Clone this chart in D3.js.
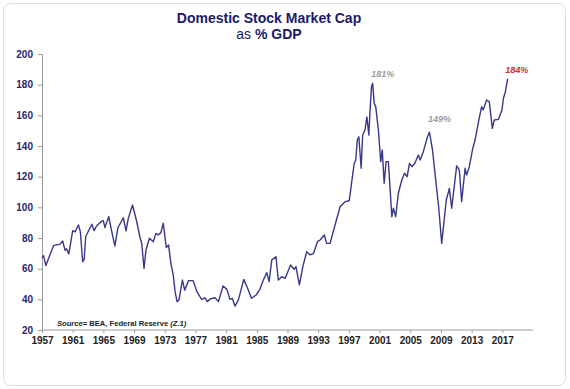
<!DOCTYPE html>
<html>
<head>
<meta charset="utf-8">
<script src="https://cdn.jsdelivr.net/npm/d3@7"></script>
<style>
  body { margin: 0; background: #fff; }
  svg { font-family: "Liberation Sans", Arial, sans-serif; }
</style>
</head>
<body>
<svg></svg>
<script>
var width = 570;
var height = 389;

// data (year, % of GDP)
var years = [1957.0, 1957.2, 1957.5, 1958.5, 1959.35, 1959.7, 1960.0, 1960.2, 1960.5, 1961.0,
  1961.3, 1961.75, 1962.0, 1962.3, 1962.5, 1962.7, 1963.5, 1963.8, 1964.1, 1964.8,
  1965.0, 1965.2, 1965.7, 1966.1, 1966.5, 1966.9, 1967.6, 1967.95, 1968.25, 1968.8,
  1969.35, 1969.8, 1970.0, 1970.3, 1970.55, 1971.0, 1971.5, 1971.85, 1972.15, 1972.5,
  1972.8, 1973.2, 1973.5, 1973.8, 1974.1, 1974.35, 1974.6, 1974.85, 1975.3, 1975.6,
  1976.1, 1976.7, 1977.2, 1977.8, 1978.25, 1978.55, 1978.9, 1979.55, 1980.0, 1980.6,
  1981.1, 1981.5, 1981.8, 1982.15, 1982.6, 1983.3, 1983.8, 1984.3, 1984.9, 1985.4,
  1985.85, 1986.3, 1986.6, 1986.95, 1987.5, 1987.8, 1988.25, 1988.7, 1989.4, 1989.85,
  1990.1, 1990.55, 1991.0, 1991.5, 1991.95, 1992.4, 1992.9, 1993.25, 1993.8, 1994.1,
  1994.55, 1995.2, 1995.85, 1996.5, 1997.05, 1997.4, 1997.7, 1997.9, 1998.1, 1998.3,
  1998.6, 1998.8, 1999.1, 1999.35, 1999.6, 1999.75, 1999.95, 2000.1, 2000.3, 2000.5,
  2000.85, 2001.15, 2001.35, 2001.6, 2001.85, 2002.15, 2002.6, 2002.8, 2003.1, 2003.45,
  2003.9, 2004.25, 2004.6, 2004.9, 2005.2, 2005.6, 2006.05, 2006.3, 2006.7, 2007.25,
  2007.5, 2007.9, 2008.25, 2008.7, 2009.1, 2009.7, 2010.1, 2010.4, 2011.05, 2011.4,
  2011.7, 2012.15, 2012.35, 2012.7, 2013.15, 2013.45, 2013.9, 2014.3, 2014.5, 2014.95,
  2015.3, 2015.7, 2015.95, 2016.5, 2016.95, 2017.15, 2017.4, 2017.7];

var marketCap = [67, 68.5, 62, 75, 76, 78, 72, 73, 69.6, 84.8,
  84, 88.5, 84, 64.5, 66, 81, 89, 84.8, 87.8, 91,
  91.3, 86.8, 94, 84, 74.8, 86.7, 93.2, 84.6, 92.8, 101.5,
  90.6, 79.8, 76.5, 60.2, 72.2, 79.8, 77.6, 83, 82, 83.5,
  89.6, 73.7, 75.4, 63.5, 55.9, 45, 38.5, 39.6, 52.6, 46,
  52.2, 52.2, 45, 40, 41, 38.5, 40.2, 41, 38.5, 48.7,
  46.5, 40, 40.7, 35.6, 39.6, 53, 47.2, 40.7, 42.8, 46.5,
  52.6, 57.4, 51.5, 65.7, 67.8, 52.6, 54.8, 53.7, 62.4, 59.6,
  61.3, 49.4, 61.3, 71, 69, 70, 77.6, 78.7, 82, 76.5,
  76.5, 88.5, 100.4, 103.7, 104.3, 117.8, 128.7, 130.9, 143.9, 146,
  125.5, 147.2, 150.4, 159, 147.2, 162.4, 178.7, 181, 167.8, 165.7,
  150.4, 129.8, 137.4, 115.7, 129.8, 129.8, 93.9, 99.4, 93.9, 109.2,
  117.8, 122.2, 120, 128.7, 126.5, 128.7, 134.1, 130.9, 136.3, 146,
  149, 137.4, 121, 100.4, 76.5, 104.8, 112.4, 99.4, 127, 124.3,
  103.7, 125.5, 121, 126.5, 138.4, 143.9, 155.9, 165.7, 163.5, 170,
  168.9, 151.5, 157, 157.4, 163.5, 171.1, 175.4, 184];

var yearTicks = [1957, 1961, 1965, 1969, 1973, 1977, 1981, 1985, 1989, 1993, 1997, 2001, 2005, 2009, 2013, 2017];
var pctTicks = [20, 40, 60, 80, 100, 120, 140, 160, 180, 200];

var peakLabels = ["181%", "149%", "184%"];
var peakYears = [2000.1, 2007.5, 2017.7];
var peakValues = [181, 149, 184];

var data = years.map((y, i) => ({year: y, value: marketCap[i]}));

var svg = d3.select("svg")
            .attr("width", width)
            .attr("height", height);

svg.append("rect")
    .attr("x", 3.5).attr("y", 3.5)
    .attr("width", width - 8).attr("height", height - 7)
    .attr("rx", 7)
    .attr("fill", "#fff")
    .attr("stroke", "#dcdcdc");

var x = d3.scaleLinear().domain([1957, 2021]).range([42, 533]);
var y = d3.scaleLinear().domain([20, 200]).range([330, 54]);

// title
var title = svg.append("text")
    .attr("x", 269)
    .attr("text-anchor", "middle")
    .attr("fill", "#1b1a6b")
    .style("font-size", "14px")
    .style("font-weight", "bold");
title.append("tspan").attr("x", 269).attr("y", 23).text("Domestic Stock Market Cap");
var line2 = title.append("tspan").attr("x", 269).attr("y", 39);
line2.append("tspan").style("font-weight", "normal").text("as ");
line2.append("tspan").text("% GDP");

// axes
var yAxis = svg.append("g")
    .attr("transform", "translate(42,0)")
    .call(d3.axisLeft(y).tickValues(pctTicks).tickSize(4).tickPadding(5));
yAxis.selectAll("text")
    .attr("fill", "#262673")
    .style("font-size", "10px")
    .style("font-weight", "bold")
    .style("font-family", "Liberation Sans, Arial, sans-serif");

var xAxis = svg.append("g")
    .attr("transform", "translate(0,330)")
    .call(d3.axisBottom(x).tickValues(yearTicks).tickFormat(d3.format("d")).tickSize(3).tickPadding(4));
xAxis.selectAll("text")
    .attr("fill", "#222")
    .style("font-size", "10px")
    .style("font-weight", "bold")
    .style("font-family", "Liberation Sans, Arial, sans-serif");

svg.selectAll(".domain, .tick line").attr("stroke", "#9a9a9a");
xAxis.select(".domain").attr("d", "M42,0H533");

// line
var line = d3.line()
    .x(d => x(d.year))
    .y(d => y(d.value));

svg.append("path")
    .datum(data)
    .attr("fill", "none")
    .attr("stroke", "#38388a")
    .attr("stroke-width", 1.4)
    .attr("stroke-linejoin", "round")
    .attr("d", line);

// peak annotations
svg.selectAll(".peak")
    .data(peakLabels)
    .enter()
    .append("text")
        .classed("peak", true)
        .attr("x", (d, i) => x(peakYears[i]) + (i === 2 ? 9 : 10))
        .attr("y", (d, i) => y(peakValues[i]) - (i === 1 ? 10 : 6))
        .attr("text-anchor", "middle")
        .attr("fill", (d, i) => i === 2 ? "#d8262e" : "#9c9c9c")
        .style("font-size", "9px")
        .style("font-weight", "bold")
        .style("font-style", "italic")
        .text(d => d);

// source note
var src = svg.append("text")
    .attr("x", 57)
    .attr("y", 326)
    .attr("fill", "#222")
    .style("font-size", "7.6px")
    .style("font-weight", "bold");
src.append("tspan").style("font-style", "italic").text("Source");
src.append("tspan").text("= BEA, Federal Reserve ");
src.append("tspan").style("font-style", "italic").text("(Z.1)");
</script>
</body>
</html>
